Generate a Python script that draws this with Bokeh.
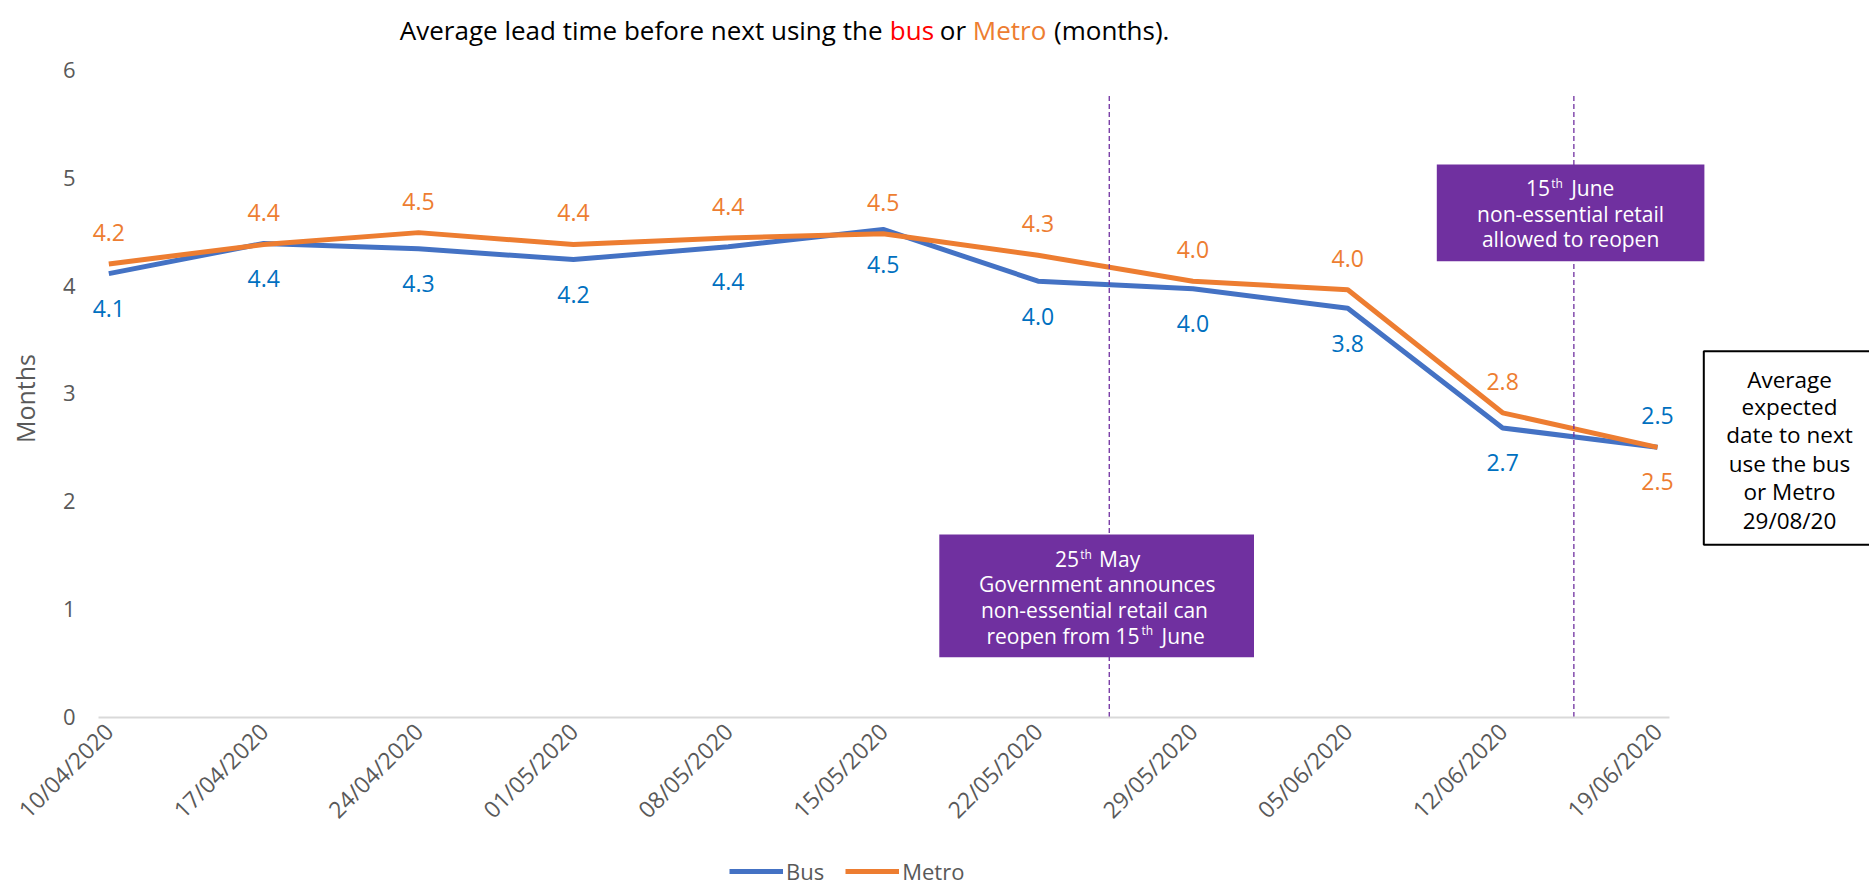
import math
from bokeh.plotting import figure
from bokeh.models import (Range1d, FixedTicker, Label, BoxAnnotation, Legend,
                          LegendItem, ColumnDataSource)
from bokeh.core.properties import value
from bokeh.embed import file_html
from bokeh.resources import INLINE

# ---------------- data ----------------
dates = ["10/04/2020", "17/04/2020", "24/04/2020", "01/05/2020", "08/05/2020",
         "15/05/2020", "22/05/2020", "29/05/2020", "05/06/2020", "12/06/2020",
         "19/06/2020"]
bus = [4.11, 4.39, 4.34, 4.24, 4.36, 4.52, 4.04, 3.97, 3.79, 2.68, 2.50]
metro = [4.20, 4.38, 4.49, 4.38, 4.44, 4.48, 4.28, 4.04, 3.96, 2.82, 2.50]
y_ticks = [0, 1, 2, 3, 4, 5, 6]
event_pos = [6.46, 9.46]      # 25 May and 15 June, on the weekly category axis
event_top = 5.77

FONT = "Open Sans"
GREY = "#595959"
BUS_C = "#4472C4"
BUS_LBL = "#0070C0"
MET_C = "#ED7D31"
PURPLE = "#7030A0"

# ---------------- geometry (canvas pixels) ----------------
W, H = 1869, 885
PX_X, X0_PAGE = 154.87, 108.3     # px per category step, x of first category
PX_Y, Y0_PAGE = 107.9, 716.6      # px per month, y of zero
PLOT_L, PLOT_R = 98, 1669         # extent of the plotting area


def X(px):   # canvas px -> data x
    return (px - X0_PAGE) / PX_X


def Y(py):   # canvas px -> data y
    return (Y0_PAGE - py) / PX_Y


p = figure(width=W, height=H, x_range=Range1d(X(0), X(W)),
           y_range=Range1d(Y(H), Y(0)), output_backend="svg",
           toolbar_location=None, min_border=0)
p.outline_line_color = None
p.xgrid.visible = False
p.ygrid.visible = False
p.background_fill_color = "white"

n = len(dates)
src = ColumnDataSource(dict(
    x=list(range(n)), bus=bus, metro=metro,
    bus_txt=[f"{v:.1f}" for v in bus],
    metro_txt=[f"{v:.1f}" for v in metro],
    bus_off=[35] * (n - 1) + [-31.5],
    metro_off=[-31.5] * (n - 1) + [34],
))

r_bus = p.line("x", "bus", source=src, line_color=BUS_C, line_width=5)
r_met = p.line("x", "metro", source=src, line_color=MET_C, line_width=5)

p.text("x", "bus", text="bus_txt", source=src, y_offset="bus_off",
       text_align="center", text_baseline="middle", text_color=BUS_LBL,
       text_font=value(FONT), text_font_size="23px")
p.text("x", "metro", text="metro_txt", source=src, y_offset="metro_off",
       text_align="center", text_baseline="middle", text_color=MET_C,
       text_font=value(FONT), text_font_size="23px")

# event lines
p.segment(x0=event_pos, y0=[0] * len(event_pos), x1=event_pos,
          y1=[event_top] * len(event_pos), line_color=PURPLE,
          line_dash="5 3", line_width=1.3)

# axes (fixed inside the canvas so that nothing is clipped)
xa = p.xaxis[0]
xa.fixed_location = 0
xa.bounds = (X(PLOT_L), X(PLOT_R))
xa.ticker = FixedTicker(ticks=list(range(n)))
xa.major_label_overrides = {i: d for i, d in enumerate(dates)}
xa.major_label_orientation = math.pi / 4
xa.axis_line_color = "#D9D9D9"
xa.axis_line_width = 2
xa.major_tick_line_color = None
xa.minor_tick_line_color = None
xa.major_tick_out = 0
xa.major_tick_in = 0
xa.major_label_standoff = 10
xa.major_label_text_font = FONT
xa.major_label_text_font_size = "23px"
xa.major_label_text_color = GREY

ya = p.yaxis[0]
ya.fixed_location = X(PLOT_L)
ya.bounds = (0, 6)
ya.ticker = FixedTicker(ticks=y_ticks)
ya.axis_line_color = None
ya.major_tick_line_color = None
ya.minor_tick_line_color = None
ya.major_tick_out = 0
ya.major_tick_in = 0
ya.major_label_standoff = 23
ya.major_label_text_font = FONT
ya.major_label_text_font_size = "22px"
ya.major_label_text_color = GREY

# y axis title
p.add_layout(Label(x=X(24), y=Y(398), text="Months", angle=math.pi / 2,
                   text_align="center", text_baseline="middle",
                   text_font=FONT, text_font_size="25px", text_color=GREY))

# chart title (multi-colour)
title_parts = [("Average lead time before next using the", 882.0, "black", "right"),
               ("bus", 889.3, "red", "left"),
               ("or", 939.3, "black", "left"),
               ("Metro", 972.3, MET_C, "left"),
               ("(months).", 1053.5, "black", "left")]
for txt, px, col, al in title_parts:
    p.add_layout(Label(x=X(px), y=Y(29.3), text=txt, text_align=al,
                       text_baseline="alphabetic", text_font=FONT,
                       text_font_size="26px", text_color=col))

# annotation boxes
p.add_layout(BoxAnnotation(left=X(938.8), right=X(1253.5), top=Y(534),
                           bottom=Y(656.7), fill_color=PURPLE, fill_alpha=1,
                           line_color=None, level="overlay"))
p.add_layout(BoxAnnotation(left=X(1436.3), right=X(1703.9), top=Y(164),
                           bottom=Y(260.7), fill_color=PURPLE, fill_alpha=1,
                           line_color=None, level="overlay"))
p.add_layout(BoxAnnotation(left=X(1703.3), right=X(1900), top=Y(350.7),
                           bottom=Y(544.3), fill_color="white", fill_alpha=1,
                           line_color="black", line_alpha=1, line_width=2,
                           level="overlay"))


def lab(px, py, txt, size="21px", color="white", align="center"):
    p.add_layout(Label(x=X(px), y=Y(py), text=txt, text_align=align,
                       text_baseline="middle", text_font=FONT,
                       text_font_size=size, text_color=color, level="overlay"))


# box 1: 15th June
lab(1549.5, 187.7, "15", align="right")
lab(1550.7, 183.0, "th", size="12px", align="left")
lab(1570.7, 187.7, "June", align="left")
lab(1570.1, 213.0, "non-essential retail")
lab(1570.1, 238.5, "allowed to reopen")

# box 2: 25th May
lab(1078.6, 558.3, "25", align="right")
lab(1079.8, 553.6, "th", size="12px", align="left")
lab(1098.6, 558.3, "May", align="left")
lab(1096.7, 583.3, "Government announces")
lab(1096.7, 609.3, "non-essential retail  can")
lab(1139.1, 635.0, "reopen from 15", align="right")
lab(1141.0, 630.3, "th", size="12px", align="left")
lab(1161.0, 635.0, "June", align="left")

# box 3
for txt, py in zip(["Average", "expected", "date to next", "use the bus",
                    "or Metro", "29/08/20"],
                   [379, 405.5, 433.5, 462.5, 491, 519.5]):
    lab(1789, py, txt, size="22.5px", color="black")

legend = Legend(items=[LegendItem(label="Bus", renderers=[r_bus]),
                       LegendItem(label="Metro", renderers=[r_met])],
                location=(729, -1), orientation="horizontal",
                glyph_width=54, glyph_height=20, label_height=20,
                label_standoff=3, spacing=21, padding=0, margin=0,
                border_line_color=None, background_fill_alpha=0,
                label_text_font=FONT, label_text_font_size="22px",
                label_text_color=GREY)
p.add_layout(legend)

open("out.html", "w").write(file_html(p, INLINE))
